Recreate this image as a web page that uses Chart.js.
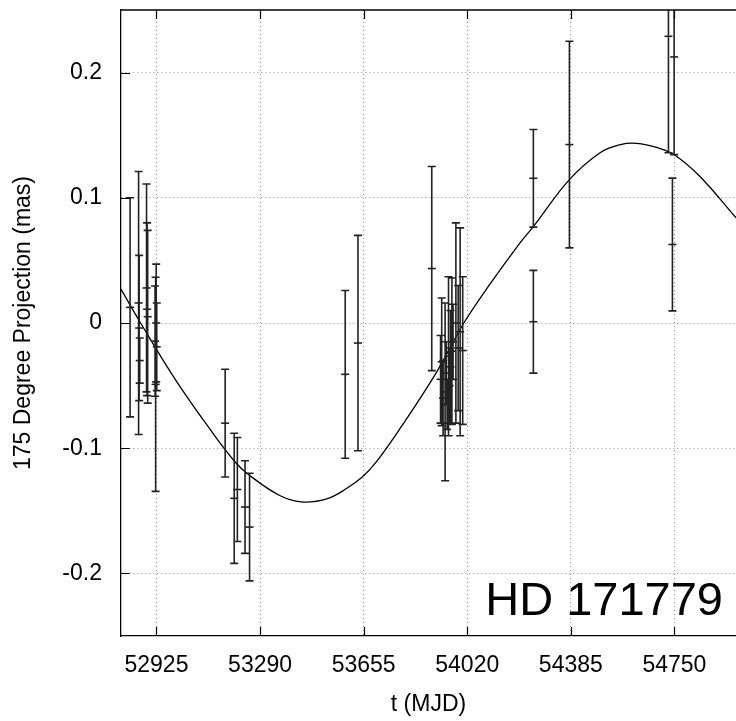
<!DOCTYPE html>
<html><head><meta charset="utf-8">
<script src="https://cdn.jsdelivr.net/npm/chart.js@4"></script>
<style>html,body{margin:0;padding:0;background:#fff;}canvas{display:block}</style>
</head><body>
<canvas id="c" width="736" height="721"></canvas>
<script>
// Observations: epoch (MJD), projected offset (mas), 1-sigma error (mas)
const obsT = [52832, 52862, 52864, 52866, 52890, 52892, 52894, 52920, 52922, 52924, 52926,
  53167, 53199, 53210, 53237, 53253,
  53590, 53635,
  53895, 53926, 53930, 53935, 53942, 53946, 53949, 53954, 53958, 53961, 53966, 53970, 53980, 53988, 53995, 54004,
  54253, 54253, 54380,
  54729, 54743, 54749];
const obsProj = [0.0125, 0.016, -0.004, -0.030, 0.028, 0.011, 0.005, -0.0145, -0.049, 0.000, -0.019,
  -0.080, -0.140, -0.133, -0.147, -0.163,
  -0.041, -0.016,
  0.0435, -0.045, -0.031, -0.060, -0.055, -0.040, -0.065, -0.0265, -0.050, -0.035, -0.0225, -0.015, 0.000, -0.020, -0.007, -0.022,
  0.1156, 0.001, 0.1425,
  0.229, 0.0627, 0.2125];
const obsErr = [0.0875, 0.105, 0.058, 0.018, 0.083, 0.069, 0.069, 0.044, 0.0855, 0.047, 0.035,
  0.043, 0.052, 0.0415, 0.037, 0.043,
  0.067, 0.086,
  0.0815, 0.035, 0.051, 0.030, 0.071, 0.025, 0.020, 0.0635, 0.030, 0.045, 0.0585, 0.030, 0.080, 0.050, 0.083, 0.059,
  0.039, 0.041, 0.0825,
  0.093, 0.053, 0.078];
// Orbit model curve
const curveT = [52800, 52869, 52991, 53114, 53202, 53249, 53361, 53442, 53530, 53596, 53650, 53696, 53784, 53910,
  54008, 54100, 54206, 54253, 54380, 54488, 54560, 54617, 54690, 54752, 54840, 54967];
const curveProj = [0.027, 0.0, -0.045, -0.085, -0.111, -0.121, -0.138, -0.143, -0.140, -0.132, -0.123, -0.112, -0.084, -0.040,
  0.0, 0.031, 0.064, 0.077, 0.1145, 0.136, 0.1425, 0.1435, 0.140, 0.134, 0.117, 0.084];
const xTicks = [52925, 53290, 53655, 54020, 54385, 54750];
const yTicks = [-0.2, -0.1, 0, 0.1, 0.2];
const yTickLabels = ['-0.2', '-0.1', '0', '0.1', '0.2'];
const xTitle = 't (MJD)';
const yTitle = '175 Degree Projection (mas)';
const starLabel = 'HD 171779';
const xMin = 52800, xMax = 54967, yMin = -0.25, yMax = 0.25;

const FONT = "'Liberation Sans', Arial, Helvetica, sans-serif";

const errorBars = {
  id: 'errorBars',
  afterDatasetsDraw(chart) {
    const {ctx, chartArea: a, scales: {x, y}} = chart;
    ctx.save();
    ctx.beginPath(); ctx.rect(a.left, a.top, a.right - a.left, a.bottom - a.top); ctx.clip();
    ctx.strokeStyle = '#222'; ctx.lineWidth = 1.6;
    ctx.beginPath();
    obsT.forEach((t, i) => {
      const px = x.getPixelForValue(t);
      const yt = y.getPixelForValue(obsProj[i] + obsErr[i]);
      const yb = y.getPixelForValue(obsProj[i] - obsErr[i]);
      ctx.moveTo(px, yt); ctx.lineTo(px, yb);
      ctx.moveTo(px - 4, yt); ctx.lineTo(px + 4, yt);
      ctx.moveTo(px - 4, yb); ctx.lineTo(px + 4, yb);
    });
    ctx.stroke();
    ctx.restore();
  }
};

const frame = {
  id: 'frame',
  afterDraw(chart) {
    const {ctx, chartArea: a, scales: {x, y}} = chart;
    ctx.save();
    ctx.strokeStyle = '#000'; ctx.lineWidth = 1.3;
    ctx.beginPath();
    ctx.moveTo(a.left, a.top); ctx.lineTo(a.right, a.top);
    ctx.stroke();
    ctx.lineWidth = 1.2;
    ctx.beginPath();
    x.ticks.forEach(tk => {
      const px = Math.round(x.getPixelForValue(tk.value)) + 0.5;
      ctx.moveTo(px, a.bottom); ctx.lineTo(px, a.bottom - 9);
      ctx.moveTo(px, a.top); ctx.lineTo(px, a.top + 9);
    });
    y.ticks.forEach(tk => {
      const py = Math.round(y.getPixelForValue(tk.value)) + 0.5;
      ctx.moveTo(a.left, py); ctx.lineTo(a.left + 9, py);
    });
    ctx.stroke();
    ctx.fillStyle = '#000';
    ctx.font = '47px ' + FONT;
    ctx.textAlign = 'right'; ctx.textBaseline = 'alphabetic';
    ctx.fillText(starLabel, a.right - 13, a.bottom - 21);
    ctx.restore();
  }
};

new Chart(document.getElementById('c'), {
  type: 'scatter',
  data: {
    datasets: [
      {type: 'line', data: curveT.map((t, i) => ({x: t, y: curveProj[i]})), borderColor: '#000', borderWidth: 1.3,
        pointRadius: 0, tension: 0.4, fill: false, order: 1},
      {type: 'scatter', data: obsT.map((t, i) => ({x: t, y: obsProj[i]})), pointStyle: 'line', pointRadius: 4,
        borderColor: '#222', backgroundColor: '#222', borderWidth: 1.6, order: 0}
    ]
  },
  options: {
    responsive: false, animation: false, devicePixelRatio: 1,
    layout: {autoPadding: false, padding: {top: 10, left: 0, right: 0, bottom: 0}},
    plugins: {legend: {display: false}, tooltip: {enabled: false}},
    scales: {
      x: {
        type: 'linear', min: xMin, max: xMax,
        afterBuildTicks: s => { s.ticks = xTicks.map(v => ({value: v})); },
        afterFit: s => { s.height = 85; s.paddingLeft = 0; s.paddingRight = 0; },
        grid: {color: '#909090', lineWidth: 1, drawTicks: false},
        border: {color: '#000', width: 1.3, dash: [1, 3]},
        ticks: {padding: 16, color: '#000', font: {family: FONT, size: 23}, maxRotation: 0, autoSkip: false,
          callback: v => String(v)},
        title: {display: true, text: xTitle, color: '#000', font: {family: FONT, size: 23}, padding: {top: 0, bottom: 3}}
      },
      y: {
        type: 'linear', min: yMin, max: yMax,
        afterBuildTicks: s => { s.ticks = yTicks.map(v => ({value: v})); },
        afterFit: s => { s.width = 121; s.paddingTop = 0; s.paddingBottom = 0; },
        grid: {color: '#909090', lineWidth: 1, drawTicks: false},
        border: {color: '#000', width: 1.3, dash: [1, 3]},
        ticks: {padding: 19, color: '#000', font: {family: FONT, size: 23}, autoSkip: false,
          callback: v => { const i = yTicks.indexOf(v); return i >= 0 ? yTickLabels[i] : ''; }},
        title: {display: true, text: yTitle, color: '#000', font: {family: FONT, size: 23}, padding: {top: 10, bottom: 0}}
      }
    }
  },
  plugins: [errorBars, frame]
});
</script>
</body></html>
